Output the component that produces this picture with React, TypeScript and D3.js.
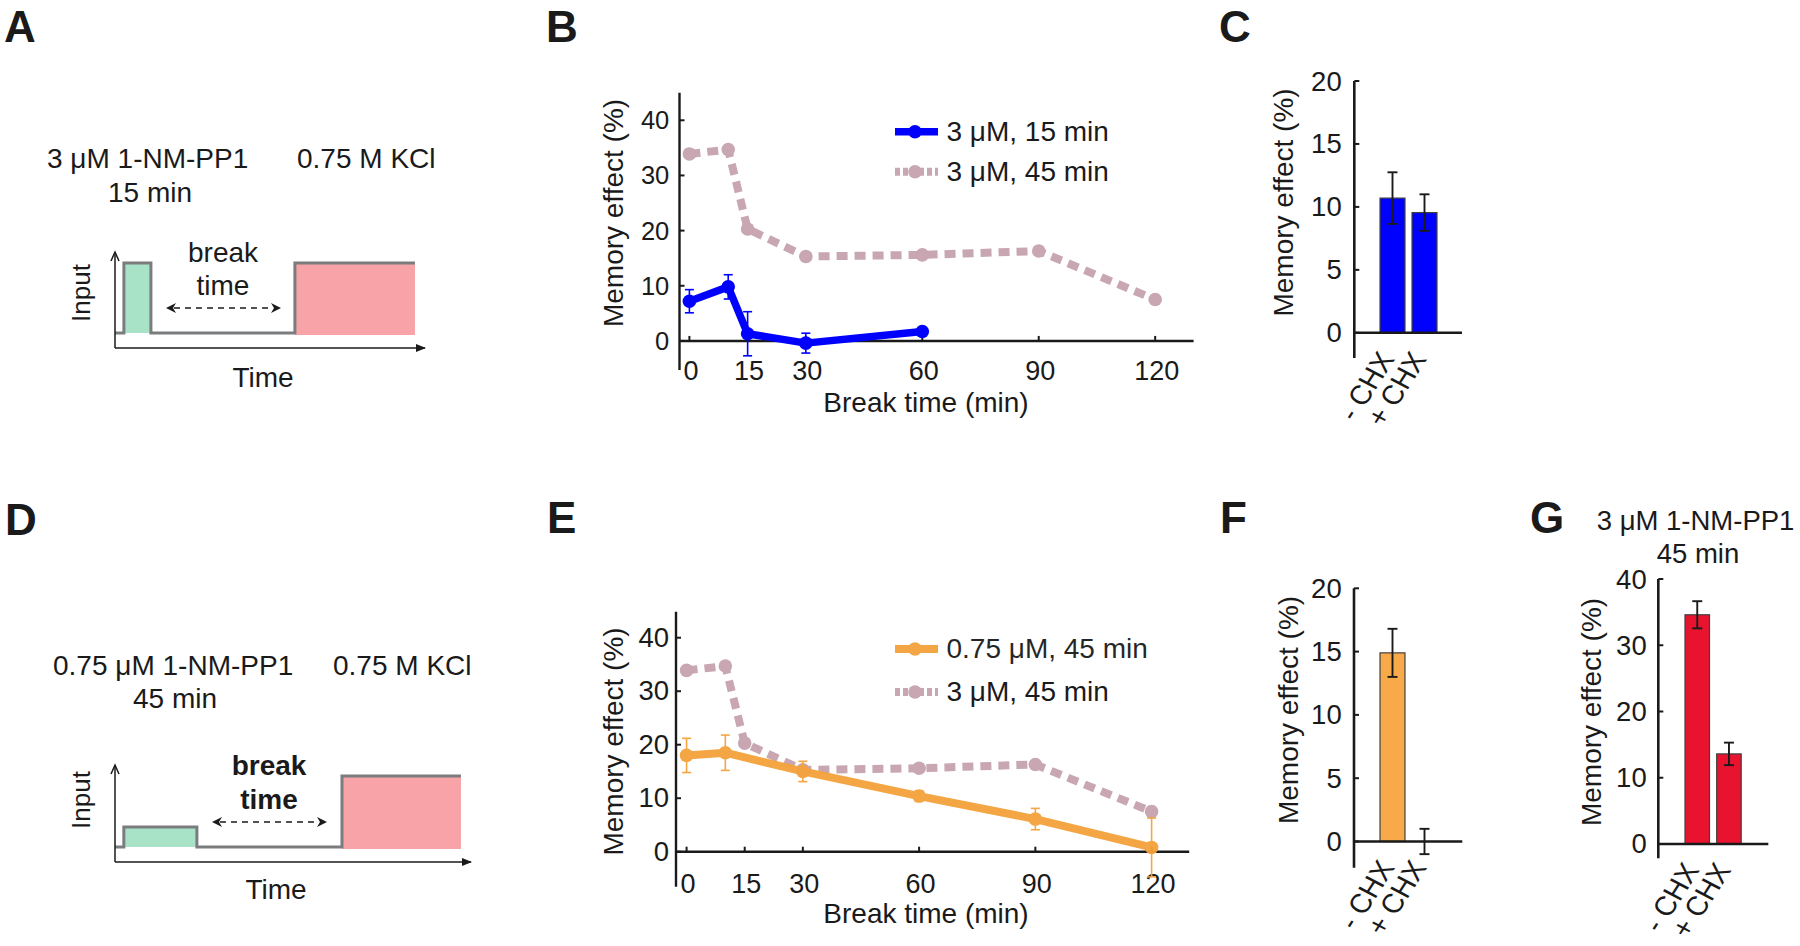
import React from 'react';
import * as d3 from 'd3';

const FONT = "'Liberation Sans', Arial, Helvetica, sans-serif";

// ---------- Data: panels B and E ----------
const xTickValues = [0, 15, 30, 60, 90, 120];
const yTicksLine = [0, 10, 20, 30, 40];
const times3uM45 = [0, 10, 15, 30, 60, 90, 120];
const mean3uM45 = [33.9, 34.7, 20.3, 15.3, 15.6, 16.3, 7.5];
const times3uM15 = [0, 10, 15, 30, 60];
const mean3uM15 = [7.2, 9.8, 1.3, -0.4, 1.7];
const err3uM15 = [2.1, 2.2, 4.0, 1.8, 0.4];
const times075 = [0, 10, 30, 60, 90, 120];
const mean075 = [18.0, 18.5, 15.0, 10.4, 6.1, 0.8];
const err075 = [3.2, 3.3, 1.9, 1.0, 2.0, 5.5];

// ---------- Data: bar panels C, F, G ----------
const chxLabels = ['- CHX', '+ CHX'];
const barsC = [10.7, 9.55];
const errC = [2.05, 1.45];
const barsF = [14.9, 0.0];
const errF = [1.9, 1.0];
const barsG = [34.6, 13.6];
const errG = [2.05, 1.7];
const yTicksCF = [0, 5, 10, 15, 20];
const yTicksG = [0, 10, 20, 30, 40];

// ---------- Schematic pulse levels (arbitrary units) ----------
const schemA = { base: 0.156, drug: [2.9, 11.7, 0.885], salt: [58.6, 97.7, 0.885] };
const schemD = { base: 0.155, drug: [2.5, 23.2, 0.36], salt: [64.3, 98, 0.887] };

const BLUE = '#0000ff';
const PINK = '#c8a6b2';
const ORANGE = '#f5a23a';
const INK = '#1a1a1a';

function T({ x, y, children, size = 25, anchor = 'start', weight = 'normal', sx = 1, rot = 0, fill = INK, pre = '' }: any) {
  return (
    <text
      transform={`translate(${x},${y}) ${pre} rotate(${rot}) scale(${sx},1)`}
      fontSize={size}
      textAnchor={anchor}
      fontWeight={weight}
      fontFamily={FONT}
      fill={fill}
    >
      {children}
    </text>
  );
}

function Schematic({ cfg, xRange, yRange, bold, lines, linesY, lineX, kcl, breakX, breakY, arrowY, arrowX, inputY, timeX, timeY }: any) {
  const x = d3.scaleLinear().domain([0, 100]).range(xRange);
  const y = d3.scaleLinear().domain([0, 1]).range(yRange);
  const [ds, de, dl] = cfg.drug;
  const [ss, se, sl] = cfg.salt;
  const pts: [number, number][] = [
    [0, cfg.base], [ds, cfg.base], [ds, dl], [de, dl], [de, cfg.base],
    [ss, cfg.base], [ss, sl], [se, sl],
  ];
  const line = d3.line<[number, number]>().x(d => x(d[0])).y(d => y(d[1]));
  const ax0 = xRange[0], ay0 = yRange[0];
  return (
    <g>
      <rect x={x(ds)} y={y(dl)} width={x(de) - x(ds)} height={y(cfg.base) - y(dl)} fill="#a8e3c8" />
      <rect x={x(ss)} y={y(sl)} width={x(se) - x(ss)} height={y(cfg.base) - y(sl) + 2} fill="#f7a3a7" />
      <path d={line(pts) || ''} fill="none" stroke="#7a7c7e" strokeWidth={3} />
      <line x1={ax0} x2={ax0} y1={ay0} y2={yRange[1] + 2} stroke={INK} strokeWidth={1.5} />
      <line x1={ax0} x2={xRange[1] + 3} y1={ay0} y2={ay0} stroke={INK} strokeWidth={1.5} />
      <path d={`M${ax0 - 4},${yRange[1] + 9} L${ax0},${yRange[1]} L${ax0 + 4},${yRange[1] + 9}`} fill="none" stroke={INK} strokeWidth={1.5} />
      <path d={`M${xRange[1] - 6},${ay0 - 4} L${xRange[1] + 4},${ay0} L${xRange[1] - 6},${ay0 + 4} Z`} fill={INK} />
      <line x1={arrowX[0] + 8} x2={arrowX[1] - 8} y1={arrowY} y2={arrowY} stroke={INK} strokeWidth={1.6} strokeDasharray="6 5" />
      <path d={`M${arrowX[0]},${arrowY} L${arrowX[0] + 10},${arrowY - 5} L${arrowX[0] + 7},${arrowY} L${arrowX[0] + 10},${arrowY + 5} Z`} fill={INK} />
      <path d={`M${arrowX[1]},${arrowY} L${arrowX[1] - 10},${arrowY - 5} L${arrowX[1] - 7},${arrowY} L${arrowX[1] - 10},${arrowY + 5} Z`} fill={INK} />
      <T x={breakX} y={breakY[0]} anchor="middle" size={28} weight={bold ? 'bold' : 'normal'}>break</T>
      <T x={breakX} y={breakY[1]} anchor="middle" size={28} weight={bold ? 'bold' : 'normal'}>time</T>
      <T x={90} y={inputY} anchor="middle" size={26} rot={-90}>Input</T>
      <T x={timeX} y={timeY} anchor="middle" size={28}>Time</T>
      <T x={lineX} y={linesY[0]} size={28}>{lines[0]}</T>
      <T x={lines[2]} y={linesY[1]} anchor="middle" size={28}>{lines[1]}</T>
      <T x={kcl} y={linesY[0]} size={28}>0.75 M KCl</T>
    </g>
  );
}

function LineChart({ xRange, yRange, xDomain, yDomain, series, legend, legendY, tickLabelY, xLabelY, yLabelX, yLabelY, yLabelRight, tickSize }: any) {
  const x = d3.scaleLinear().domain(xDomain).range(xRange);
  const y = d3.scaleLinear().domain(yDomain).range(yRange);
  const y0 = y(0);
  const line = d3.line<[number, number]>().x(d => x(d[0])).y(d => y(d[1]));
  return (
    <g>
      <line x1={xRange[0]} x2={xRange[0]} y1={yRange[0]} y2={yRange[1]} stroke={INK} strokeWidth={2.4} />
      <line x1={xRange[0]} x2={xRange[1]} y1={y0} y2={y0} stroke={INK} strokeWidth={2.6} />
      {yTicksLine.map(t => (
        <g key={'y' + t}>
          <line x1={xRange[0]} x2={xRange[0] + 5} y1={y(t)} y2={y(t)} stroke={INK} strokeWidth={2} />
          <T x={yLabelRight} y={y(t) + 9} anchor="end" size={tickSize}>{t}</T>
        </g>
      ))}
      {xTickValues.map(t => (
        <g key={'x' + t}>
          <line x1={x(t)} x2={x(t)} y1={y0} y2={y0 - 5} stroke={INK} strokeWidth={2} />
          <T x={x(t) + 1.5} y={tickLabelY} anchor="middle" size={27}>{t}</T>
        </g>
      ))}
      <T x={926} y={xLabelY} anchor="middle" size={28}>Break time (min)</T>
      <T x={yLabelX} y={yLabelY} anchor="middle" size={28} rot={-90}>Memory effect (%)</T>
      {series.map((s: any, i: number) => {
        const pts: [number, number][] = s.t.map((t: number, j: number) => [t, s.m[j]]);
        return (
          <g key={'s' + i} opacity={s.opacity || 1}>
            <path d={line(pts) || ''} fill="none" stroke={s.color} strokeWidth={s.w} strokeDasharray={s.dash || undefined} strokeLinejoin="round" />
            {s.e && pts.map((p, j) => (
              <g key={'e' + j} stroke={s.color} strokeWidth={1.6}>
                <line x1={x(p[0])} x2={x(p[0])} y1={y(p[1] - s.e[j])} y2={y(p[1] + s.e[j])} />
                <line x1={x(p[0]) - 4.5} x2={x(p[0]) + 4.5} y1={y(p[1] - s.e[j])} y2={y(p[1] - s.e[j])} />
                <line x1={x(p[0]) - 4.5} x2={x(p[0]) + 4.5} y1={y(p[1] + s.e[j])} y2={y(p[1] + s.e[j])} />
              </g>
            ))}
            {pts.map((p, j) => (
              <circle key={'c' + j} cx={x(p[0])} cy={y(p[1])} r={s.r} fill={s.color} />
            ))}
          </g>
        );
      })}
      {legend.map((s: any, i: number) => (
        <g key={'l' + i} opacity={s.opacity || 1}>
          <line x1={895} x2={938} y1={legendY[i]} y2={legendY[i]} stroke={s.color} strokeWidth={s.w} strokeDasharray={s.dash ? '5 3' : undefined} />
          <circle cx={915} cy={legendY[i]} r={s.r} fill={s.color} />
          <T x={946.5} y={legendY[i] + 9} size={28}>{s.label}</T>
        </g>
      ))}
    </g>
  );
}

function BarChart({ axisX, axisRight, yRange, yDomain, yTicks, bandRange, pad, values, errs, color, tickRight, yLabelX, yLabelY }: any) {
  const y = d3.scaleLinear().domain(yDomain).range(yRange);
  const xb = d3.scaleBand().domain(chxLabels).range(bandRange).paddingInner(pad).paddingOuter(pad / 2);
  const y0 = y(0);
  return (
    <g>
      {chxLabels.map((c, i) => (
        <rect key={c} x={xb(c)} y={Math.min(y(values[i]), y0)} width={xb.bandwidth()} height={Math.abs(y0 - y(values[i]))} fill={color} stroke="#404040" strokeWidth={1.2} />
      ))}
      <line x1={axisX} x2={axisX} y1={yRange[0]} y2={yRange[1]} stroke={INK} strokeWidth={2.6} />
      <line x1={axisX} x2={axisRight} y1={y0} y2={y0} stroke={INK} strokeWidth={2.6} />
      {yTicks.map((t: number) => (
        <g key={t}>
          <line x1={axisX} x2={axisX + 5} y1={y(t)} y2={y(t)} stroke={INK} strokeWidth={2} />
          <T x={tickRight} y={y(t) + 9.5} anchor="end" size={27.5}>{t}</T>
        </g>
      ))}
      {chxLabels.map((c, i) => {
        const cx = (xb(c) as number) + xb.bandwidth() / 2;
        return (
          <g key={'e' + c} stroke={INK} strokeWidth={1.9}>
            <line x1={cx} x2={cx} y1={y(values[i] - errs[i])} y2={y(values[i] + errs[i])} />
            <line x1={cx - 5} x2={cx + 5} y1={y(values[i] - errs[i])} y2={y(values[i] - errs[i])} />
            <line x1={cx - 5} x2={cx + 5} y1={y(values[i] + errs[i])} y2={y(values[i] + errs[i])} />
          </g>
        );
      })}
      {chxLabels.map(c => {
        const cx = (xb(c) as number) + xb.bandwidth() / 2;
        return <T key={'t' + c} x={cx + 3} y={y0 + 26} anchor="end" size={27} pre="scale(1.1,1)" rot={-60}>{c}</T>;
      })}
      <T x={yLabelX} y={yLabelY} anchor="middle" size={28} rot={-90}>Memory effect (%)</T>
    </g>
  );
}

export default function App() {
  const s45 = { t: times3uM45, m: mean3uM45, color: PINK, w: 8, dash: '11 7', r: 6.8, label: '3 μM, 45 min' };
  const s15 = { t: times3uM15, m: mean3uM15, e: err3uM15, color: BLUE, w: 7.5, r: 6.8, label: '3 μM, 15 min' };
  const s075 = { t: times075, m: mean075, e: err075, color: ORANGE, w: 8, r: 6.8, opacity: 0.95, label: '0.75 μM, 45 min' };
  return (
    <svg width={1800} height={946} style={{ position: 'absolute', left: 0, top: 0, background: '#fff' }}>
      <rect width={1800} height={946} fill="#fff" />
      {[['A', 4, 42], ['B', 546, 42], ['C', 1219, 42], ['D', 5, 535], ['E', 547, 533], ['F', 1220, 533], ['G', 1530, 533]].map(([l, x, y]: any) => (
        <T key={l} x={x} y={y} size={44} weight="bold">{l}</T>
      ))}

      <Schematic cfg={schemA} xRange={[115, 422]} yRange={[348, 252]} bold={false}
        lines={['3 μM 1-NM-PP1', '15 min', 150]} linesY={[168, 202]} lineX={47} kcl={297}
        breakX={223} breakY={[262, 295]} arrowY={308} arrowX={[166, 281]} inputY={293} timeX={263} timeY={387} />
      <Schematic cfg={schemD} xRange={[115, 468]} yRange={[862, 765]} bold={true}
        lines={['0.75 μM 1-NM-PP1', '45 min', 175]} linesY={[675, 708]} lineX={53} kcl={333}
        breakX={269} breakY={[775, 809]} arrowY={822} arrowX={[212, 327]} inputY={800} timeX={276} timeY={899} />

      <LineChart xRange={[679.5, 1193.6]} yRange={[370, 92.7]} xDomain={[-2.55, 129.9]} yDomain={[-5.27, 45.0]}
        series={[s45, s15]} legend={[s15, s45]} legendY={[131.7, 171.7]} tickLabelY={380} xLabelY={412}
        yLabelX={623} yLabelY={213} yLabelRight={669.3} tickSize={25.5} />
      <LineChart xRange={[676, 1189.2]} yRange={[886.7, 611.7]} xDomain={[-2.73, 129.7]} yDomain={[-6.54, 44.86]}
        series={[s45, s075]} legend={[s075, s45]} legendY={[649, 692]} tickLabelY={893} xLabelY={923}
        yLabelX={623} yLabelY={741.5} yLabelRight={669} tickSize={27.5} />

      <BarChart axisX={1354.3} axisRight={1462} yRange={[358, 81]} yDomain={[-2, 20]} yTicks={yTicksCF}
        bandRange={[1376.5, 1440.5]} pad={0.22} values={barsC} errs={errC} color={BLUE} tickRight={1341.7}
        yLabelX={1293} yLabelY={202.5} />
      <BarChart axisX={1354} axisRight={1462.3} yRange={[867.7, 588.3]} yDomain={[-2.07, 20]} yTicks={yTicksCF}
        bandRange={[1376.5, 1440.5]} pad={0.22} values={barsF} errs={errF} color="#f8a94a" tickRight={1341.7}
        yLabelX={1298} yLabelY={710} />
      <BarChart axisX={1658.3} axisRight={1768.3} yRange={[858.3, 579]} yDomain={[-2.16, 40]} yTicks={yTicksG}
        bandRange={[1681.4, 1744.8]} pad={0.227} values={barsG} errs={errG} color="#e8142f" tickRight={1646.7}
        yLabelX={1601} yLabelY={712} />
      <T x={1596.7} y={530} size={27.5}>3 μM 1-NM-PP1</T>
      <T x={1698} y={563} size={27.5} anchor="middle">45 min</T>
    </svg>
  );
}
